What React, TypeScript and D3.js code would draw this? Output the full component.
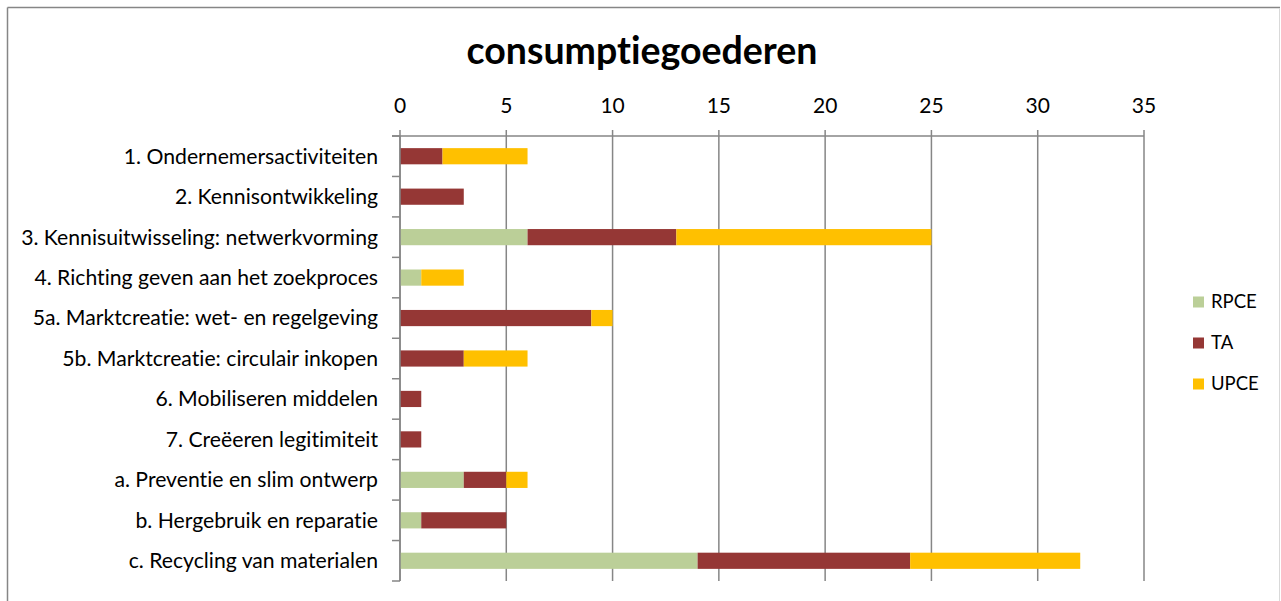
import React from "react";
import * as d3 from "d3";

const categories = [
  "1. Ondernemersactiviteiten",
  "2. Kennisontwikkeling",
  "3. Kennisuitwisseling: netwerkvorming",
  "4. Richting geven aan het zoekproces",
  "5a. Marktcreatie: wet- en regelgeving",
  "5b. Marktcreatie: circulair inkopen",
  "6. Mobiliseren middelen",
  "7. Creëeren legitimiteit",
  "a. Preventie en slim ontwerp",
  "b. Hergebruik en reparatie",
  "c. Recycling van materialen",
];
const seriesNames = ["RPCE", "TA", "UPCE"];
const RPCE = [0, 0, 6, 1, 0, 0, 0, 0, 3, 1, 14];
const TA = [2, 3, 7, 0, 9, 3, 1, 1, 2, 4, 10];
const UPCE = [4, 0, 12, 2, 1, 3, 0, 0, 1, 0, 8];
const xTicks = [0, 5, 10, 15, 20, 25, 30, 35];
const colors = ["#BBCF98", "#953735", "#FFC000"];
const title = "consumptiegoederen";

const W = 1281;
const H = 601;
const FONT = "Lato, 'Open Sans', sans-serif";
const noLig: React.CSSProperties = {
  fontVariantLigatures: "none",
  fontFeatureSettings: '"liga" 0, "clig" 0',
};

export default function App() {
  const x = d3.scaleLinear().domain([0, 35]).range([400, 1144]);
  const y = d3
    .scaleBand<string>()
    .domain(categories)
    .range([136, 581])
    .paddingInner(0.6)
    .paddingOuter(0.3);

  const rows = categories.map((c, i) => ({
    cat: c,
    RPCE: RPCE[i],
    TA: TA[i],
    UPCE: UPCE[i],
  }));
  const stack = d3.stack<any>().keys(seriesNames)(rows);
  const step = y.step();
  const boundaries = d3.range(categories.length + 1).map((i) => 136 + i * step);

  return (
    <svg
      width={W}
      height={H}
      style={{ position: "absolute", left: 0, top: 0, background: "#fff", ...noLig }}
    >
      <rect x={0} y={0} width={W} height={H} fill="#fff" />
      {/* frame */}
      <line x1={7.5} y1={7.5} x2={1280} y2={7.5} stroke="#868686" strokeWidth={1.5} />
      <line x1={7.5} y1={7.5} x2={7.5} y2={H} stroke="#868686" strokeWidth={1.5} />
      <line x1={1279.5} y1={8} x2={1279.5} y2={H} stroke="#d9d9d9" strokeWidth={1} />

      <text
        x={642}
        y={64}
        textAnchor="middle"
        fontFamily={FONT}
        fontWeight="bold"
        fontSize={37.5}
        fill="#000"
        style={noLig}
      >
        {title}
      </text>

      {/* gridlines + top ticks */}
      {xTicks.map((t) => (
        <g key={t}>
          <line
            x1={x(t)}
            x2={x(t)}
            y1={130}
            y2={581}
            stroke="#868686"
            strokeWidth={1.5}
          />
          <text
            x={x(t)}
            y={113}
            textAnchor="middle"
            fontFamily={FONT}
            fontSize={21}
            fill="#000"
          >
            {t}
          </text>
        </g>
      ))}
      <line x1={392} x2={x(35)} y1={136} y2={136} stroke="#868686" strokeWidth={1.5} />

      {/* bars */}
      {stack.map((s, si) => (
        <g key={s.key} fill={colors[si]}>
          {s.map((d, i) =>
            d[1] - d[0] > 0 ? (
              <rect
                key={i}
                x={x(d[0])}
                y={y(categories[i])}
                width={x(d[1]) - x(d[0])}
                height={y.bandwidth()}
              />
            ) : null
          )}
        </g>
      ))}

      {/* category axis */}
      <line x1={x(0)} x2={x(0)} y1={136} y2={581} stroke="#868686" strokeWidth={1.5} />
      {boundaries.map((b, i) => (
        <line key={i} x1={392} x2={x(0)} y1={b} y2={b} stroke="#868686" strokeWidth={1.5} />
      ))}
      {categories.map((c) => (
        <text
          key={c}
          x={378}
          y={(y(c) as number) + y.bandwidth() / 2}
          dy="0.35em"
          textAnchor="end"
          fontFamily={FONT}
          fontSize={21.2}
          fill="#000"
          style={noLig}
        >
          {c}
        </text>
      ))}

      {/* legend */}
      {seriesNames.map((n, i) => (
        <g key={n} transform={`translate(1193, ${302 + i * 41})`}>
          <rect x={0} y={-5.5} width={11} height={11} fill={colors[i]} />
          <text x={18} y={0} dy="0.35em" fontFamily={FONT} fontSize={18.5} fill="#000">
            {n}
          </text>
        </g>
      ))}
    </svg>
  );
}
